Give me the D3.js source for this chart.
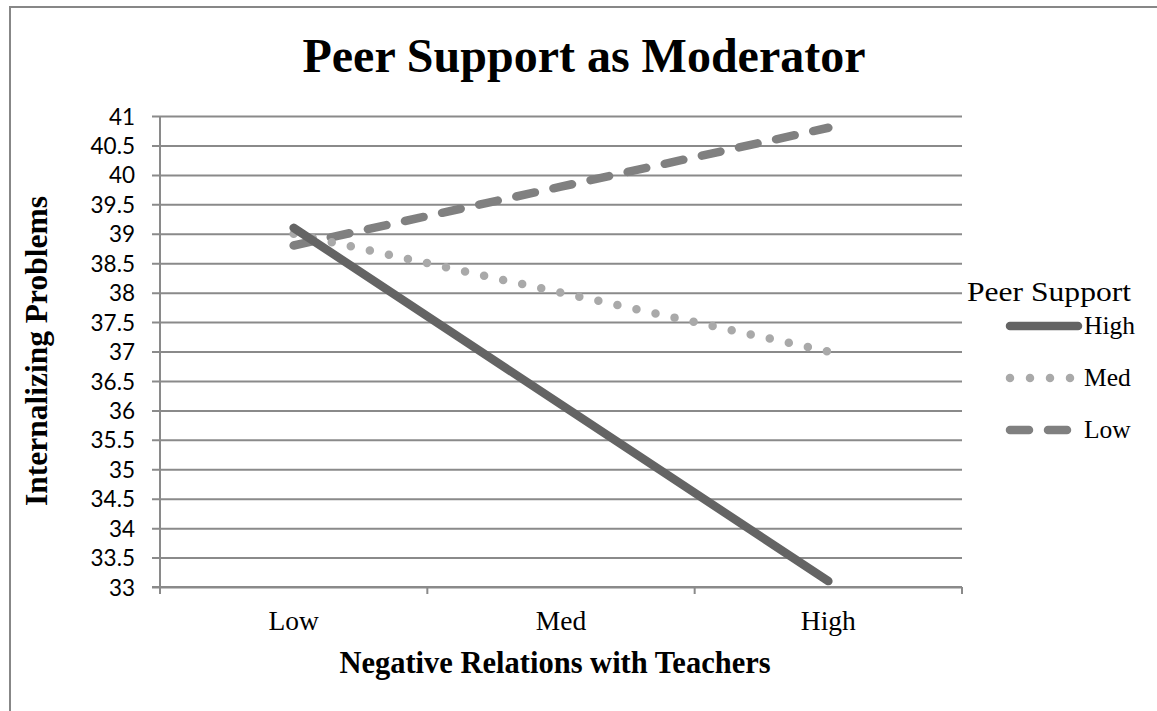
<!DOCTYPE html>
<html>
<head>
<meta charset="utf-8">
<script src="https://cdn.jsdelivr.net/npm/d3@7"></script>
<style>
  body { margin: 0; background: #fff; }
  svg { display: block; }
</style>
</head>
<body>
<div id="myChart"></div>
<script>
// data
var categories = ["Low", "Med", "High"];
var highSupport = [39.1, 36.1, 33.1];
var medSupport = [39.0, 38.0, 37.0];
var lowSupport = [38.8, 39.8, 40.8];
var yTicks = [33, 33.5, 34, 34.5, 35, 35.5, 36, 36.5, 37, 37.5, 38, 38.5, 39, 39.5, 40, 40.5, 41];
var seriesNames = ["High", "Med", "Low"];

var width = 1157, height = 711;
var plotLeft = 160, plotRight = 962, plotTop = 116, plotBottom = 587;

var svg = d3.select("#myChart")
    .append("svg")
    .attr("width", width).attr("height", height);

// chart border
svg.append("rect")
    .attr("x", 10).attr("y", 7)
    .attr("width", 1300).attr("height", 900)
    .attr("fill", "none")
    .attr("stroke", "#878787")
    .attr("stroke-width", 2);

var x = d3.scaleBand().domain(categories).range([plotLeft, plotRight]);
var y = d3.scaleLinear().domain([33, 41]).range([plotBottom, plotTop]);
var cx = function(c) { return x(c) + x.bandwidth() / 2; };

// grid + y axis
var yAxis = svg.append("g")
    .attr("transform", "translate(" + plotLeft + ",0)")
    .call(d3.axisLeft(y).tickValues(yTicks).tickSize(0).tickPadding(0)
        .tickFormat(function(d) { return d; }));
yAxis.select(".domain").remove();
yAxis.selectAll(".tick line")
    .attr("x1", -8).attr("x2", plotRight - plotLeft)
    .attr("stroke", "#8a8a8a").attr("stroke-width", 2);
yAxis.selectAll(".tick text")
    .attr("x", -25).attr("dy", "0.36em")
    .style("font-family", "Lato, 'Open Sans', sans-serif")
    .style("font-size", "22.5px")
    .attr("fill", "#000");

svg.append("line")
    .attr("x1", plotLeft).attr("x2", plotLeft)
    .attr("y1", plotTop).attr("y2", plotBottom + 7)
    .attr("stroke", "#8a8a8a").attr("stroke-width", 2);

// x axis
svg.append("line")
    .attr("x1", plotLeft - 8).attr("x2", plotRight)
    .attr("y1", plotBottom).attr("y2", plotBottom)
    .attr("stroke", "#8a8a8a").attr("stroke-width", 2);

var bounds = categories.map(function(c) { return x(c); }).concat([plotRight]);
svg.selectAll(".xtick")
    .data(bounds)
    .enter().append("line")
    .attr("x1", function(d) { return d; }).attr("x2", function(d) { return d; })
    .attr("y1", plotBottom).attr("y2", plotBottom + 7)
    .attr("stroke", "#8a8a8a").attr("stroke-width", 2);

svg.selectAll(".xlabel")
    .data(categories)
    .enter().append("text")
    .attr("x", cx).attr("y", 630)
    .attr("text-anchor", "middle")
    .style("font-family", "'Liberation Serif', 'Times New Roman', serif")
    .style("font-size", "27.5px")
    .text(function(d) { return d; });

// titles
svg.append("text")
    .attr("x", 584).attr("y", 72)
    .attr("text-anchor", "middle")
    .style("font-family", "'Liberation Serif', 'Times New Roman', serif")
    .style("font-size", "48px").style("font-weight", "bold")
    .text("Peer Support as Moderator");

svg.append("text")
    .attr("x", 555).attr("y", 673)
    .attr("text-anchor", "middle")
    .style("font-family", "'Liberation Serif', 'Times New Roman', serif")
    .style("font-size", "30.5px").style("font-weight", "bold")
    .text("Negative Relations with Teachers");

svg.append("text")
    .attr("transform", "translate(47,351) rotate(-90)")
    .attr("text-anchor", "middle")
    .style("font-family", "'Liberation Serif', 'Times New Roman', serif")
    .style("font-size", "31.5px").style("font-weight", "bold")
    .text("Internalizing Problems");

// series
var styles = [
    { color: "#646464", dash: null },
    { color: "#a9a9a9", dash: "0,19.5" },
    { color: "#808080", dash: "19,19" }
];
var allSeries = [highSupport, medSupport, lowSupport];

var line = d3.line()
    .x(function(d, i) { return cx(categories[i]); })
    .y(function(d) { return y(d); });

// draw Low first so High sits on top
[2, 1, 0].forEach(function(k) {
    svg.append("path")
        .attr("d", line(allSeries[k]))
        .attr("fill", "none")
        .attr("stroke", styles[k].color)
        .attr("stroke-width", 8.5)
        .attr("stroke-linecap", "round")
        .attr("stroke-dasharray", styles[k].dash);
});

// legend
svg.append("text")
    .attr("x", 967).attr("y", 301)
    .attr("textLength", 164).attr("lengthAdjust", "spacingAndGlyphs")
    .style("font-family", "'Liberation Serif', 'Times New Roman', serif")
    .style("font-size", "28px")
    .text("Peer Support");

var legendY = [326, 378, 430];
var leg = svg.selectAll(".legend")
    .data(seriesNames)
    .enter().append("g");

leg.append("line")
    .attr("x1", 1010).attr("x2", function(d, i) { return i == 0 ? 1078 : 1074; })
    .attr("y1", function(d, i) { return legendY[i]; })
    .attr("y2", function(d, i) { return legendY[i]; })
    .attr("stroke", function(d, i) { return styles[i].color; })
    .attr("stroke-width", 8.5)
    .attr("stroke-linecap", "round")
    .attr("stroke-dasharray", function(d, i) { return i == 1 ? "0,20" : styles[i].dash; });

leg.append("text")
    .attr("x", 1084)
    .attr("y", function(d, i) { return legendY[i] + 8; })
    .style("font-family", "'Liberation Serif', 'Times New Roman', serif")
    .style("font-size", "25.5px")
    .text(function(d) { return d; });
</script>
</body>
</html>
